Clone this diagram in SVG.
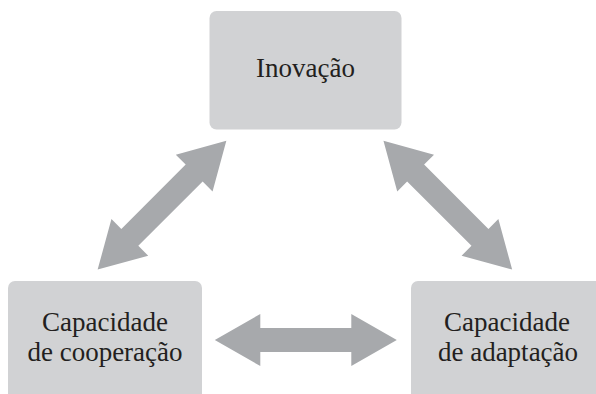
<svg xmlns="http://www.w3.org/2000/svg" xmlns:xlink="http://www.w3.org/1999/xlink" width="596" height="394" viewBox="0 0 596 394">
<style>
.box{fill:#d1d2d4;}
.lbl{font-family:"Liberation Serif","Times New Roman",serif;font-size:27px;fill:#231f20;text-anchor:middle;}
.arr{fill:#a7a9ac;}
</style>
<defs>
<path id="dbl" d="M -91,0 L -45.5,-26 L -45.5,-12 L 45.5,-12 L 45.5,-26 L 91,0 L 45.5,26 L 45.5,12 L -45.5,12 L -45.5,26 Z"/>
</defs>
<rect width="596" height="394" fill="#ffffff"/>
<g id="connectors">
<use xlink:href="#dbl" class="arr" transform="translate(162,205.2) rotate(-45)"/>
<use xlink:href="#dbl" class="arr" transform="translate(447.8,205.2) rotate(45)"/>
<use xlink:href="#dbl" class="arr" transform="translate(305.8,340)"/>
</g>
<g id="inovacao">
<rect class="box" x="209.5" y="11" width="192" height="118.5" rx="7"/>
<text class="lbl" x="305.5" y="77">Inovação</text>
</g>
<g id="cooperacao">
<rect class="box" x="8" y="281" width="194" height="130" rx="7"/>
<text class="lbl" x="105" y="331">Capacidade</text>
<text class="lbl" x="105" y="361">de cooperação</text>
</g>
<g id="adaptacao">
<rect class="box" x="411" y="281" width="194" height="130" rx="7"/>
<text class="lbl" x="507" y="331">Capacidade</text>
<text class="lbl" x="508" y="361">de adaptação</text>
</g>
</svg>
